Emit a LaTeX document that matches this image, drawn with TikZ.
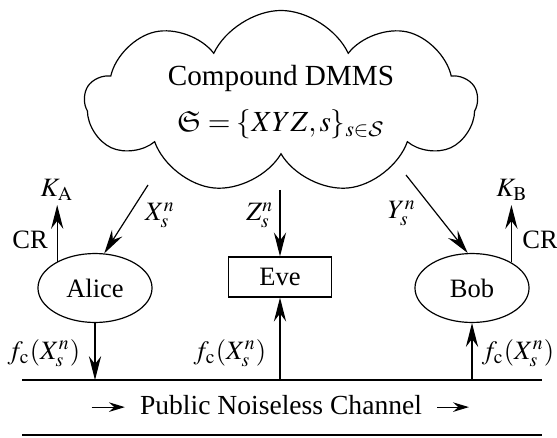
\documentclass[tikz,border=0pt]{standalone}
\usepackage{amssymb}
\usepackage{mathptmx}
\DeclareMathAlphabet{\mathcal}{OMS}{cmsy}{m}{n}
\usepackage[no-math]{fontspec}
\setmainfont{Liberation Serif}
\usetikzlibrary{shapes.symbols,shapes.geometric,arrows.meta}
\begin{document}
\begin{tikzpicture}[x=0.377pt,y=-0.377pt,
  every node/.style={font=\fontsize{10}{12}\selectfont},
  ln/.style={line width=0.45pt},
  arr/.style={ln,-{Stealth[length=9pt,width=4.6pt,inset=3pt]}},
  sarr/.style={ln,-{Stealth[length=6pt,width=3.6pt,inset=2pt]}},
  party/.style={draw,ln,ellipse,minimum width=43pt,minimum height=26pt,inner sep=0pt},
  lab/.style={inner sep=0pt}]
\useasboundingbox (0,0) rectangle (557,437);
\node[cloud, draw, ln, cloud puffs=9, cloud puff arc=130, cloud ignores aspect,
  minimum width=147.8pt, minimum height=69pt, align=center, inner sep=0pt,
  font=\fontsize{11}{13}\selectfont] (cloud) at (281,102)
  {Compound DMMS\\[4.5pt]$\mathfrak{S}=\{XYZ,s\}_{s\in\mathcal{S}}$};
\node[party] (alice) at (95,288) {Alice};
\node[party] (bob) at (472,288) {Bob};
\node[draw,ln,minimum width=38.8pt,minimum height=15.1pt,inner sep=0pt] (eve) at (280,277) {Eve};
\coordinate (cx) at (148,185);
\coordinate (cz) at (280,190);
\coordinate (cy) at (406,175);
\draw[arr] (cx) -- (alice.75);
\draw[arr] (cz) -- (eve.north);
\draw[arr] (cy) -- (bob.97);
\node[lab] (lx) at (160,215) {$X_s^n$};
\node[lab] (lz) at (260,215) {$Z_s^n$};
\node[lab] (ly) at (402,213) {$Y_s^n$};
\node[inner sep=1.5pt, anchor=south] (ka) at (57,205) {$K_{\mathrm{A}}$};
\node[inner sep=1.5pt, anchor=south] (kb) at (512,205) {$K_{\mathrm{B}}$};
\draw[arr] (alice.145) -- (alice.145 |- ka.south);
\draw[arr] (bob.33) -- (bob.33 |- kb.south);
\node[lab] (cra) at (30,240) {CR};
\node[lab] (crb) at (540,240) {CR};
\coordinate (chl) at (22,380);
\coordinate (chr) at (542,380);
\coordinate (cbl) at (22,435);
\coordinate (cbr) at (542,435);
\draw[ln] (chl) -- (chr);
\draw[line width=0.8pt] (cbl) -- (cbr);
\draw[arr] (alice.south) -- (alice.south |- chl);
\draw[arr] (eve.south |- chl) -- (eve.south);
\draw[arr] (bob.south |- chl) -- (bob.south);
\node[lab] (fa) at (44,353) {$f_{\mathrm{c}}(X_s^n)$};
\node[lab] (fe) at (230,353) {$f_{\mathrm{c}}(X_s^n)$};
\node[lab] (fb) at (518,353) {$f_{\mathrm{c}}(X_s^n)$};
\node[lab, font=\fontsize{10.4}{12}\selectfont] (ch) at (281,405) {Public Noiseless Channel};
\draw[sarr] ([xshift=-18pt,yshift=-0.8pt]ch.west) -- ([xshift=-5.5pt,yshift=-0.8pt]ch.west);
\draw[sarr] ([xshift=5.5pt,yshift=-0.8pt]ch.east) -- ([xshift=17.5pt,yshift=-0.8pt]ch.east);
\end{tikzpicture}
\end{document}
